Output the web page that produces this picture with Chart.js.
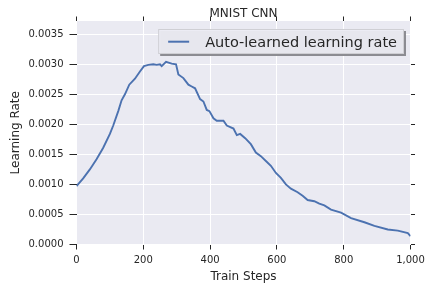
<!DOCTYPE html>
<html>
<head>
<meta charset="utf-8">
<script src="https://cdn.jsdelivr.net/npm/chart.js@4"></script>
<style>
  html, body { margin: 0; padding: 0; background: #fff; }
  #wrap { width: 430px; height: 288px; }
</style>
</head>
<body>
<div id="wrap"><canvas id="lr"></canvas></div>
<script>
const chartTitle = 'MNIST CNN'
const seriesLabel = 'Auto-learned learning rate'
const xTitle = 'Train Steps'
const yTitle = 'Learning Rate'

const trainSteps = [0, 20, 40, 60, 80, 100, 110, 125, 135, 145, 158, 175, 190, 202, 215, 230, 240, 250, 255, 268, 285, 298,
  305, 320, 335, 345, 355, 370, 380, 390, 398, 410, 420, 440, 450, 470, 480, 490, 505, 522, 537, 552, 567, 582, 597,
  612, 627, 642, 662, 677, 692, 712, 727, 742, 762, 792, 822, 862, 892, 932, 962, 992, 1000]
const learningRates = [0.00097, 0.00110, 0.00125, 0.00142, 0.00161, 0.00184, 0.00198, 0.00222, 0.00240, 0.00250, 0.00266,
  0.00276, 0.00288, 0.00297, 0.00299, 0.00300, 0.00299, 0.00300, 0.00297, 0.00304, 0.00301, 0.00300,
  0.00283, 0.00277, 0.00266, 0.00263, 0.00260, 0.00242, 0.00238, 0.00224, 0.00222, 0.00210, 0.00206, 0.00206, 0.00198,
  0.00193, 0.00182, 0.00184, 0.00177, 0.00167, 0.00153, 0.00147, 0.00139, 0.00131, 0.00119,
  0.00111, 0.00100, 0.00093, 0.00087, 0.00081, 0.00074, 0.00072, 0.00068, 0.00065, 0.00058, 0.00053, 0.00044,
  0.00037, 0.00031, 0.00025, 0.00023, 0.00019, 0.00014]

const xMin = 0, xMax = 1000, xStep = 200
const yMin = 0, yMax = 0.00372, yStep = 0.0005

const ink = '#262626'
const font = 'DejaVu Sans'

// only keep ticks that sit on a step (chart.js adds the max otherwise)
const keepSteps = (step) => (scale) => {
  scale.ticks = scale.ticks.filter(t => Math.abs(t.value / step - Math.round(t.value / step)) < 1e-6)
}

const seabornLook = {
  id: 'seabornLook',
  beforeDraw(chart) {
    const { ctx, chartArea: a } = chart
    ctx.save()
    ctx.fillStyle = '#fff'
    ctx.fillRect(0, 0, chart.width, chart.height)
    ctx.fillStyle = '#EAEAF2'
    ctx.fillRect(a.left, a.top, a.right - a.left, a.bottom - a.top)
    ctx.restore()
  },
  afterDraw(chart) {
    const { ctx, chartArea: a } = chart
    ctx.save()
    // title
    ctx.fillStyle = ink
    ctx.font = '12px "' + font + '"'
    ctx.textAlign = 'center'
    ctx.textBaseline = 'alphabetic'
    ctx.fillText(chartTitle, (a.left + a.right) / 2, a.top - 4)

    // legend with shadow
    ctx.font = '14.5px "' + font + '"'
    const tw = ctx.measureText(seriesLabel).width
    const w = 10 + 21 + 16 + tw + 7
    const h = 25
    const x = a.right - 6.5 - w
    const y = a.top + 8
    ctx.fillStyle = '#8c8c92'
    ctx.fillRect(x + 2, y + 2, w, h)
    ctx.fillStyle = 'rgba(236,236,243,0.95)'
    ctx.fillRect(x, y, w, h)
    ctx.strokeStyle = '#cfcfd4'
    ctx.lineWidth = 1
    ctx.strokeRect(x + 0.5, y + 0.5, w - 1, h - 1)
    ctx.strokeStyle = '#4C72B0'
    ctx.lineWidth = 2
    ctx.beginPath()
    ctx.moveTo(x + 10, y + 12.7)
    ctx.lineTo(x + 31, y + 12.7)
    ctx.stroke()
    ctx.fillStyle = ink
    ctx.textAlign = 'left'
    ctx.fillText(seriesLabel, x + 47, y + 17.5)
    ctx.restore()
  }
}

new Chart(document.getElementById('lr'), {
  type: 'line',
  data: {
    datasets: [{
      label: seriesLabel,
      data: trainSteps.map((s, i) => ({ x: s, y: learningRates[i] })),
      borderColor: '#4C72B0',
      borderWidth: 1.9,
      pointRadius: 0,
      tension: 0,
      fill: false
    }]
  },
  options: {
    responsive: true,
    maintainAspectRatio: false,
    animation: false,
    layout: { padding: { left: 0, top: 15, right: 13.5, bottom: 0 } },
    plugins: {
      legend: { display: false },
      title: { display: false },
      tooltip: { enabled: false }
    },
    scales: {
      x: {
        type: 'linear', position: 'bottom', min: xMin, max: xMax,
        afterFit: (s) => { s.height = 43.5 },
        afterBuildTicks: keepSteps(xStep),
        ticks: { stepSize: xStep, color: ink, padding: 5, maxRotation: 0, font: { family: font, size: 10 } },
        grid: { color: '#fff', lineWidth: 1, tickColor: ink, tickLength: 5 },
        border: { display: false },
        title: { display: true, text: xTitle, color: ink, font: { family: font, size: 12 }, padding: { top: 0, bottom: 4 } }
      },
      x2: {
        type: 'linear', position: 'top', min: xMin, max: xMax,
        afterFit: (s) => { s.height = 6 },
        afterBuildTicks: keepSteps(xStep),
        ticks: { stepSize: xStep, display: false },
        grid: { drawOnChartArea: false, tickColor: ink, tickLength: 4.5 },
        border: { display: false }
      },
      y: {
        type: 'linear', position: 'left', min: yMin, max: yMax,
        afterFit: (s) => { s.width = 76.5 },
        afterBuildTicks: keepSteps(yStep),
        ticks: { stepSize: yStep, color: ink, padding: 6, font: { family: font, size: 10 }, callback: (v) => v.toFixed(4) },
        grid: { color: '#fff', lineWidth: 1, tickColor: ink, tickLength: 7 },
        border: { display: false },
        title: { display: true, text: yTitle, color: ink, font: { family: font, size: 12 }, padding: { top: 9, bottom: 0 } }
      },
      y2: {
        type: 'linear', position: 'right', min: yMin, max: yMax,
        afterFit: (s) => { s.width = 6 },
        afterBuildTicks: keepSteps(yStep),
        ticks: { stepSize: yStep, display: false },
        grid: { drawOnChartArea: false, tickColor: ink, tickLength: 4.5 },
        border: { display: false }
      }
    }
  },
  plugins: [seabornLook]
})
</script>
</body>
</html>
